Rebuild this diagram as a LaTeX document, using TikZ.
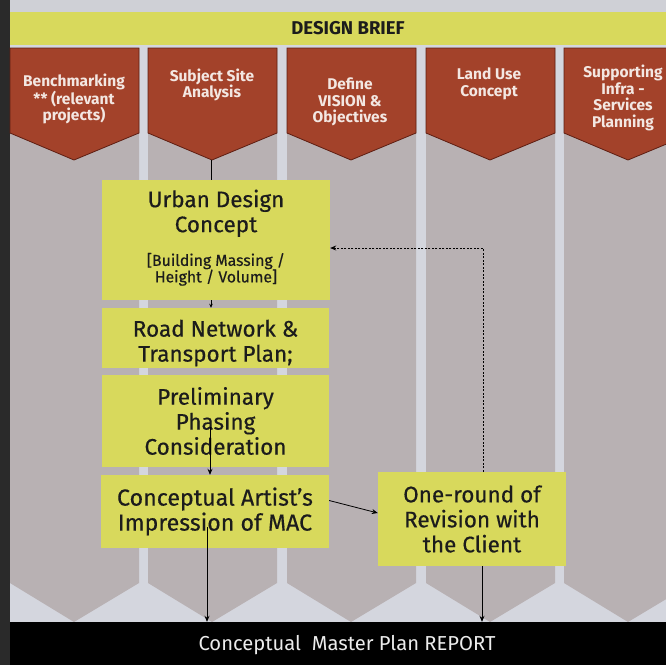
\documentclass[tikz,border=0pt]{standalone}
\usepackage{fontspec}
\setmainfont{Fira Sans}
\newfontfamily\medfont[FakeBold=0.4]{Fira Sans}
\usetikzlibrary{arrows.meta}
\definecolor{colgray}{HTML}{B8B1B3}
\definecolor{gaplight}{HTML}{D4D6DE}
\definecolor{topgray}{HTML}{CFD0D6}
\definecolor{yellowc}{HTML}{D8D95C}
\definecolor{brownc}{HTML}{A3422A}
\definecolor{brownedge}{HTML}{5E1E12}
\definecolor{txtdark}{HTML}{1C1C1C}
\definecolor{browntxt}{HTML}{F3E7E2}
\definecolor{darkedge}{HTML}{2A2A2A}
\definecolor{reporttxt}{HTML}{ECECEC}
\begin{document}
\begin{tikzpicture}[x=1pt,y=-1pt,
  ybox/.style={fill=yellowc, inner sep=0pt, align=flush center, text=txtdark,
    font=\medfont\fontsize{22.5}{25}\selectfont},
  btxt/.style={text=browntxt, align=center, inner sep=0pt,
    font=\bfseries\fontsize{15.5}{16.5}\selectfont},
  chev/.style={fill=brownc, draw=brownedge, line width=0.8pt},
  ln/.style={draw=black, line width=0.8pt},
  arr/.style={ln, -{Stealth[length=6pt,width=5pt]}},
  smallarr/.style={ln, -{Stealth[length=4pt,width=3.5pt]}},
  dasharr/.style={ln, dash pattern=on 2pt off 1.5pt, -{Stealth[length=6pt,width=5pt]}}]
\useasboundingbox (0,0) rectangle (666,665);
% background
\fill[gaplight] (0,0) rectangle (666,665);
\fill[topgray] (10,0) rectangle (666,12);
\fill[darkedge] (0,0) rectangle (10,665);
% design brief band
\fill[yellowc] (10,12) rectangle (666,45);
\node[text=txtdark, font=\bfseries\fontsize{18.5}{21}\selectfont, inner sep=0pt] (brief) at (348,28) {DESIGN BRIEF};
% gray columns and brown chevrons
\foreach \x/\c in {10/74, 148/212, 287/351, 426/490, 564/628}{
  \fill[colgray] (\x,48) -- ({\x+129},48) -- ({\x+129},583) -- (\c,622) -- (\x,583) -- cycle;
  \path[chev] (\x,48) -- ({\x+129},48) -- ({\x+129},133) -- (\c,160) -- (\x,133) -- cycle;
}
% brown texts
\node[btxt] (b1) at (74,99) {Benchmarking\\** (relevant\\projects)};
\node[btxt] (b2) at (212,85) {Subject Site\\Analysis};
\node[btxt] (b3) at (350,102) {Define\\VISION \&\\Objectives};
\node[btxt] (b4) at (489,84) {Land Use\\Concept};
\node[btxt] (b5) at (623,98) {Supporting\\Infra -\\Services\\Planning};
% bottom bar
\node[fill=black, minimum width=656pt, minimum height=43pt, inner sep=0pt] (bar) at (338,643.5) {};
\node[text=reporttxt, font=\fontsize{20.2}{23}\selectfont, inner sep=0pt] (report) at (347,645) {Conceptual\ \ Master Plan REPORT};
% yellow boxes
\node[ybox, minimum width=228pt, minimum height=120pt, text width=224pt] (udc) at (216,240)
  {Urban Design\\Concept\par\vspace{15pt}{\fontsize{15.8}{16.5}\selectfont{[}Building Massing /\\Height / Volume{]}\rule[-8pt]{0pt}{1pt}\par}};
\node[ybox, minimum width=227pt, minimum height=60pt, text width=224pt] (rn) at (215.5,338)
  {\rule{0pt}{27pt}Road Network \&\\Transport Plan;};
\node[ybox, minimum width=227pt, minimum height=92pt, text width=224pt] (pp) at (215.5,421)
  {Preliminary\\Phasing\\Consideration};
\node[ybox, minimum width=228pt, minimum height=73pt, text width=224pt] (art) at (215,511.5)
  {\fontsize{23.2}{25}\selectfont Conceptual Artist’s\\Impression of MAC};
\node[ybox, minimum width=188pt, minimum height=94pt, text width=184pt] (rev) at (472,519)
  {One-round of\\Revision with\\the Client};
% connectors
\coordinate (t2) at (211,160);
\draw[ln] (t2) -- (t2 |- udc.north);
\draw[smallarr] (udc.south -| t2) -- (rn.north -| t2);
\coordinate (pmid) at (210,427);
\draw[arr] (pmid) -- (pmid |- art.north);
\coordinate (amid) at (207,527);
\draw[arr] (amid) -- (amid |- bar.north);
\draw[arr] ([yshift=11pt]art.east) -- ([yshift=6pt]rev.west);
\draw[arr] ([xshift=10pt]rev.south) -- ([xshift=10pt]rev.south |- bar.north);
\draw[dasharr] ([xshift=11pt]rev.north) |- ([yshift=-8pt]udc.east);
\end{tikzpicture}
\end{document}
